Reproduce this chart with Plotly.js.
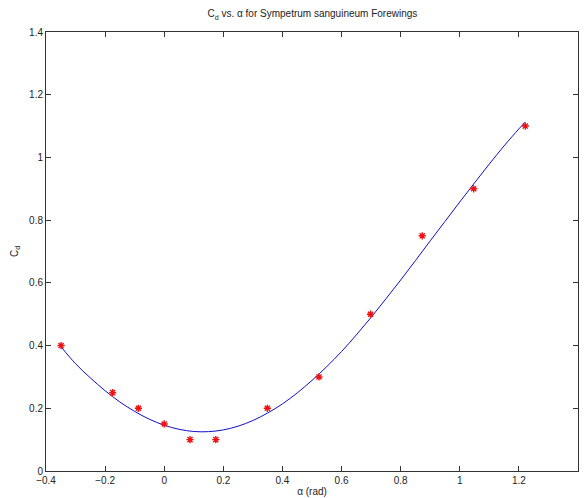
<!DOCTYPE html>
<html>
<head>
<meta charset="utf-8">
<script src="https://cdn.plot.ly/plotly-3.0.1.min.js"></script>
<style>html,body{margin:0;padding:0;background:#fff;}#chart{width:584px;height:498px;}</style>
</head>
<body>
<div id="chart"></div>
<script>
// Measured data (alpha in rad, Cd)
const alphaData = [-0.349, -0.1745, -0.0873, 0.0, 0.0873, 0.1745, 0.349, 0.5236, 0.698, 0.873, 1.047, 1.2217];
const cdData = [0.40, 0.25, 0.20, 0.15, 0.10, 0.10, 0.20, 0.30, 0.50, 0.75, 0.90, 1.10];

// Fitted curve
const alphaFit = [-0.349, -0.30, -0.25, -0.20, -0.15, -0.10, -0.05, 0.00, 0.05, 0.10, 0.15, 0.20, 0.25, 0.30, 0.35, 0.40, 0.45, 0.50, 0.55, 0.60, 0.65, 0.70, 0.75, 0.80, 0.85, 0.90, 0.95, 1.00, 1.05, 1.10, 1.15, 1.20, 1.222];
const cdFit = [0.396, 0.342, 0.297, 0.256, 0.220, 0.190, 0.165, 0.146, 0.133, 0.126, 0.1255, 0.131, 0.143, 0.161, 0.185, 0.214, 0.249, 0.289, 0.333, 0.381, 0.434, 0.490, 0.549, 0.609, 0.671, 0.734, 0.796, 0.858, 0.919, 0.979, 1.037, 1.091, 1.113];

const xTicks = [-0.4, -0.2, 0, 0.2, 0.4, 0.6, 0.8, 1, 1.2, 1.4];
const yTicks = [0, 0.2, 0.4, 0.6, 0.8, 1, 1.2, 1.4];

const traces = [
  {x: alphaFit, y: cdFit, type: 'scatter', mode: 'lines', line: {color: '#1010c8', width: 1, shape: 'spline'}, hoverinfo: 'skip'},
  {x: alphaData, y: cdData, type: 'scatter', mode: 'markers',
   marker: {symbol: 'asterisk-open', size: 6, color: '#ee1111', line: {color: '#ee1111', width: 1.4}}}
];

const axisCommon = {
  showgrid: false, zeroline: false, showline: true, linecolor: '#333', linewidth: 1,
  mirror: 'ticks', ticks: 'inside', ticklen: 5, tickcolor: '#333', tickwidth: 1,
  tickfont: {family: 'Liberation Sans, Arial, sans-serif', size: 10, color: '#222'}
};

const layout = {
  width: 584, height: 498,
  margin: {l: 46, r: 6, t: 32, b: 27},
  paper_bgcolor: '#fff', plot_bgcolor: '#fff',
  showlegend: false,
  title: {text: 'C<sub>d</sub> vs. α for Sympetrum sanguineum Forewings', x: 0.535, xanchor: 'center', y: 0.972, yanchor: 'middle',
          font: {family: 'Liberation Sans, Arial, sans-serif', size: 10, color: '#222'}},
  xaxis: Object.assign({}, axisCommon, {range: [-0.4, 1.4], tickvals: xTicks, ticktext: xTicks.map(v => (v < 0 ? '\u2212' : '') + Math.abs(v)),
     title: {text: 'α (rad)', standoff: 2, font: {family: 'Liberation Sans, Arial, sans-serif', size: 10, color: '#222'}}}),
  yaxis: Object.assign({}, axisCommon, {range: [0, 1.4], tickvals: yTicks, ticktext: yTicks.map(v => String(v)),
     title: {text: 'C<sub>d</sub>', standoff: 8, font: {family: 'Liberation Sans, Arial, sans-serif', size: 10, color: '#222'}}})
};

Plotly.newPlot('chart', traces, layout, {displayModeBar: false, staticPlot: true});
</script>
</body>
</html>
